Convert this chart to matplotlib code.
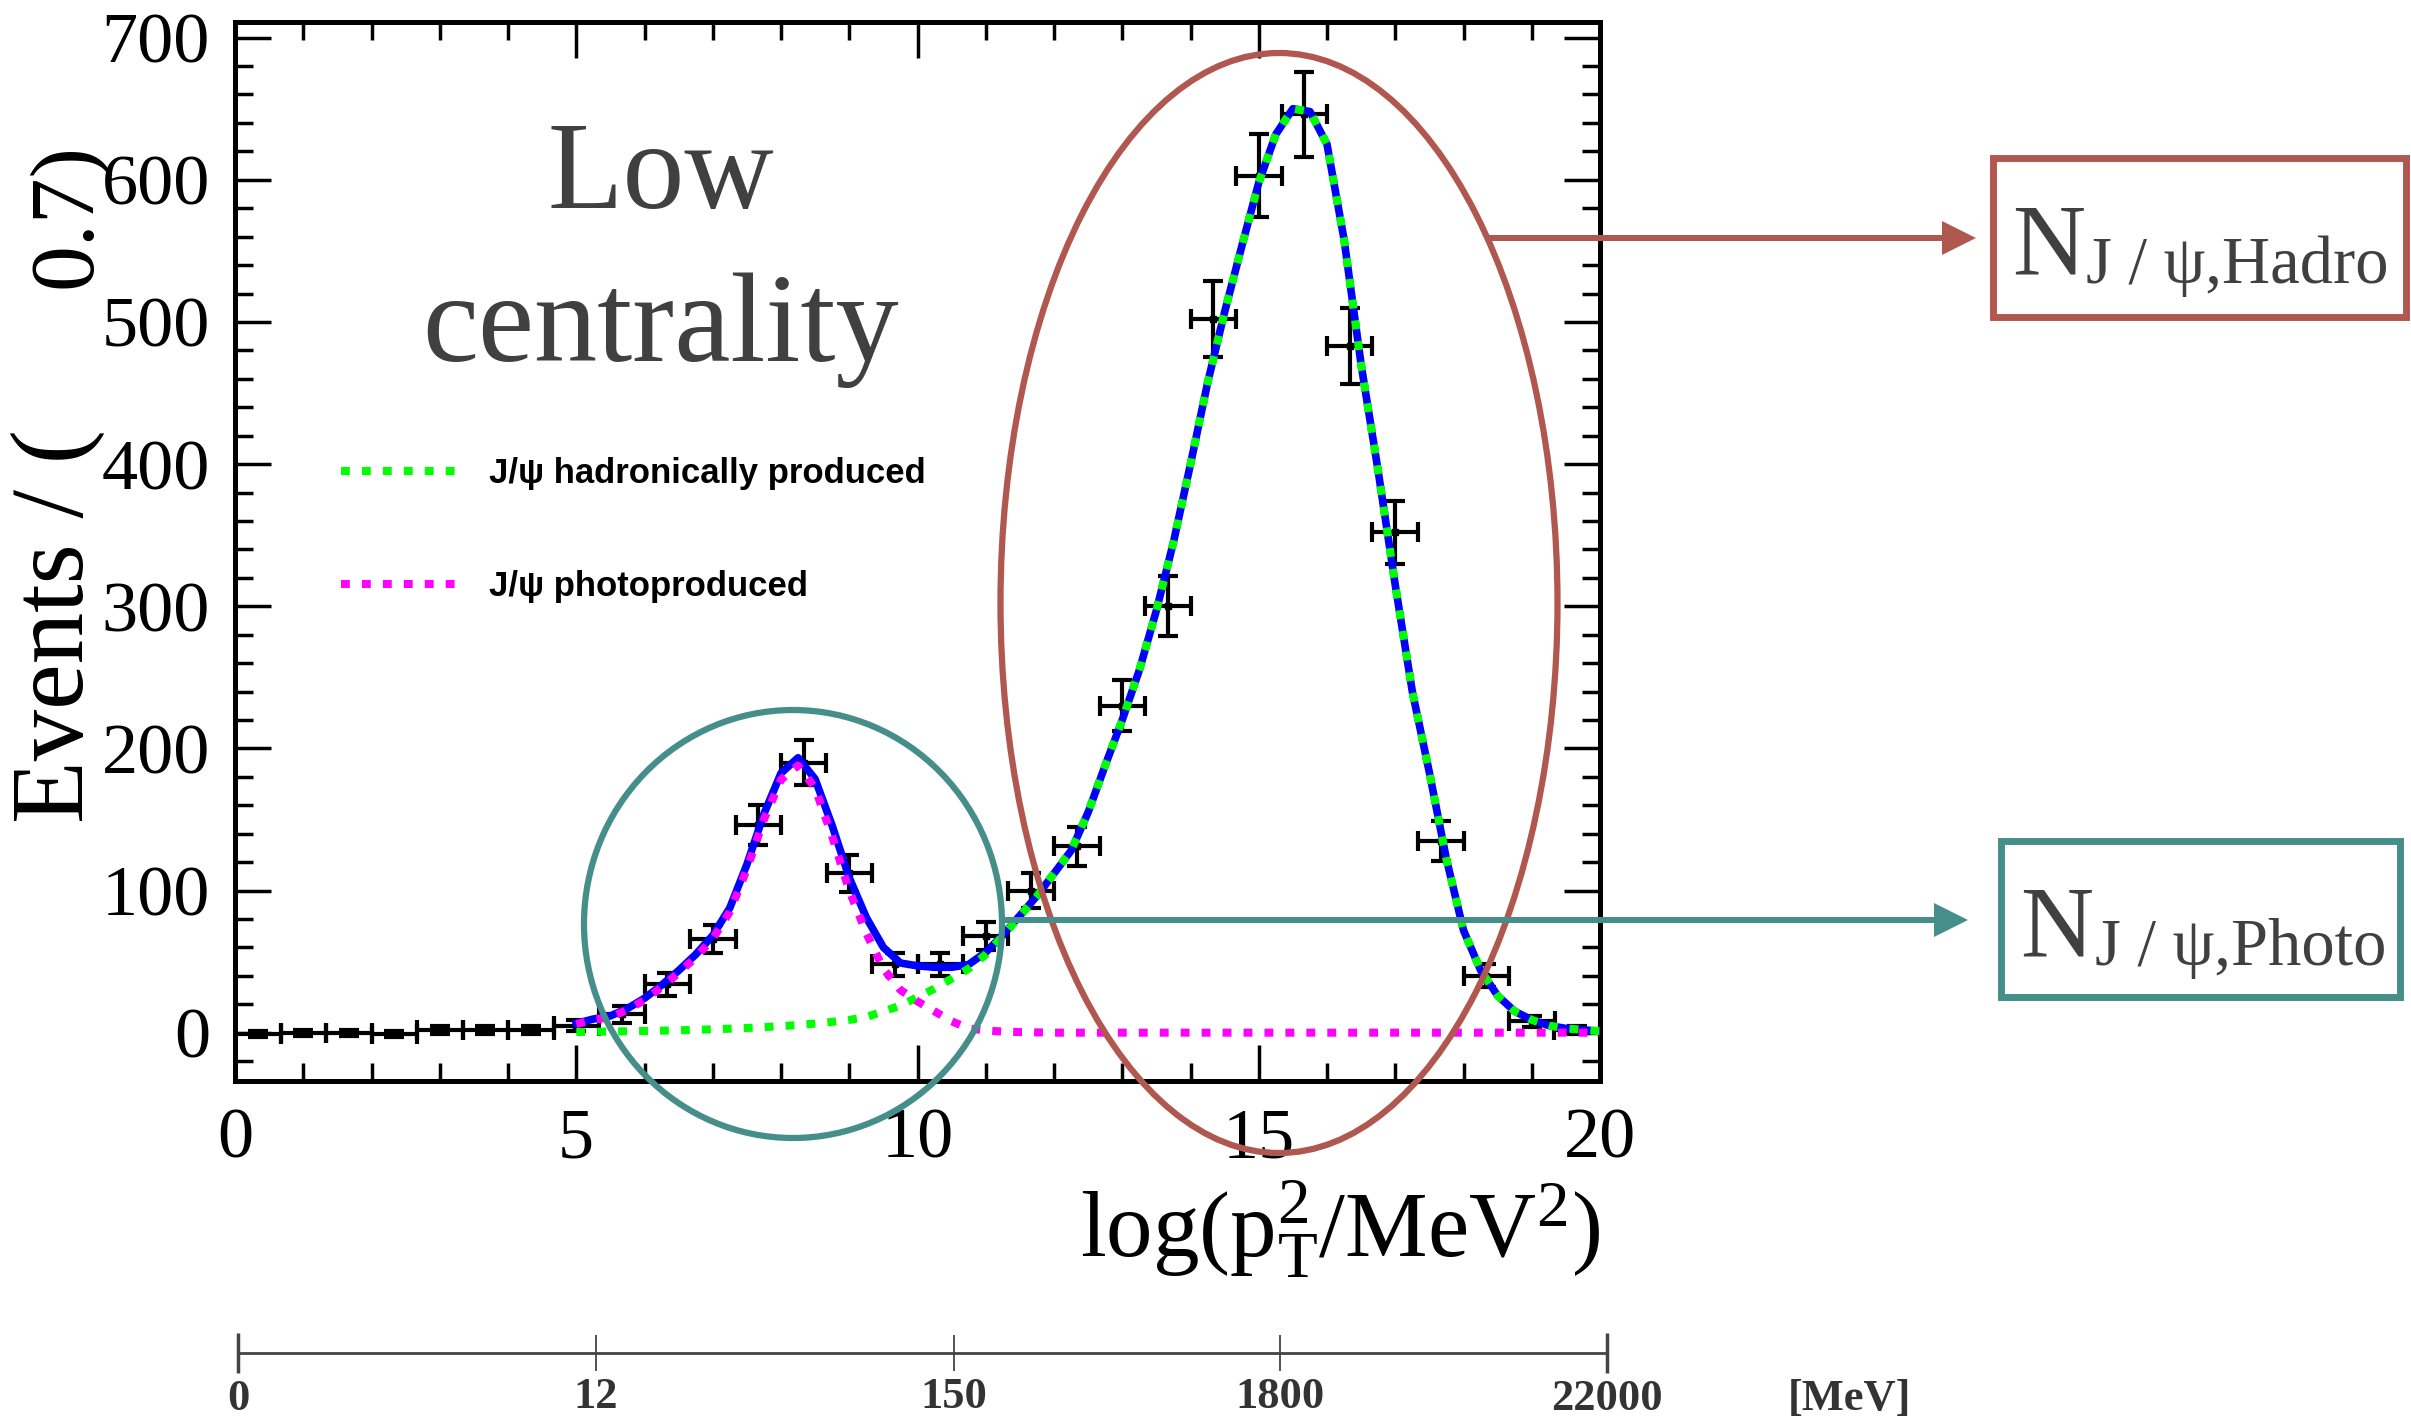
import numpy as np
import matplotlib.pyplot as plt
from matplotlib import patches

plt.rcParams['font.family'] = ['Liberation Serif', 'DejaVu Serif']
plt.rcParams['mathtext.fontset'] = 'custom'
plt.rcParams['mathtext.rm'] = 'Liberation Serif'
plt.rcParams['mathtext.it'] = 'Liberation Serif:italic'

# binned data: 30 bins over log(pT^2) in [0, 20]
n_bins = 30
counts = [-1, 0, 0, -1, 2, 2, 2, 5, 13, 34,
          66, 146, 190, 112, 48, 48, 68, 100, 131, 230,
          300, 502, 603, 646, 483, 352, 135, 40, 8, 2]
errors = [2, 2, 2, 2, 3, 3, 3, 4, 6, 8,
          10, 14, 16, 13, 8, 8, 10, 12, 14, 18,
          21, 27, 29, 30, 27, 22, 14, 8, 4, 3]

# fit components, sampled every 0.25 from 5 to 20
fit_x = np.linspace(5, 20, 61)
hadro = [0.5, 0.6, 0.8, 1.0, 1.2, 1.4, 1.7, 2.0, 2.4, 2.8,
         3.3, 3.9, 4.6, 5.4, 6.4, 7.6, 9, 11, 15, 19,
         25, 31, 38, 45, 55, 68, 82, 96, 112, 128,
         155, 188, 220, 255, 297, 345, 400, 457, 507, 553,
         598, 632, 650, 648, 625, 558, 470, 395, 315, 240,
         183, 122, 72, 44, 26, 15, 9, 5, 3, 2, 1]
photo = [6, 9, 11, 16, 23, 32, 42, 53, 66, 85,
         115, 150, 178, 188, 172, 138, 100, 70, 45, 30,
         22, 15, 8, 3, 1.5, 0.8, 0.4, 0.2, 0, 0,
         0, 0, 0, 0, 0, 0, 0, 0, 0, 0,
         0, 0, 0, 0, 0, 0, 0, 0, 0, 0,
         0, 0, 0, 0, 0, 0, 0, 0, 0, 0, 0]

# momentum scale drawn below the plot
mev_pos = [0, 5.23, 10.46, 15.22, 20]
mev_labels = ["0", "12", "150", "1800", "22000"]

W, H = 2411, 1420
teal = '#468e89'
red = '#b0584f'
grey = '#404040'

fig = plt.figure(figsize=(W / 100, H / 100), dpi=100)

ax = fig.add_axes([235 / W, 1 - 1081 / H, 1365 / W, 1059 / H])

edges = np.linspace(0, 20, n_bins + 1)
centers = 0.5 * (edges[:-1] + edges[1:])
half = 0.5 * np.diff(edges)

ax.errorbar(centers, counts, yerr=errors, xerr=half, fmt='s', ms=4,
            color='black', ecolor='black', elinewidth=3, capsize=7,
            capthick=3, zorder=2)

total = np.array(hadro) + np.array(photo)
dots = (0, (1.1, 1.5))
ax.plot(fit_x, total, color='blue', lw=5.5, zorder=3)
ax.plot(fit_x, hadro, color='#00ff00', lw=5.8, linestyle=dots,
        dash_capstyle='butt', zorder=4, label='J/ψ hadronically produced')
ax.plot(fit_x, photo, color='#ff00ff', lw=5.8, linestyle=dots,
        dash_capstyle='butt', zorder=4, label='J/ψ photoproduced')

ax.set_xlim(0, 20)
ax.set_ylim(-34, 711)
ax.set_xticks([0, 5, 10, 15, 20])
ax.set_xticks(np.arange(0, 21, 1), minor=True)
ax.set_yticks(np.arange(0, 701, 100))
ax.set_yticks(np.arange(-20, 711, 20), minor=True)
ax.tick_params(which='both', direction='in', top=True, right=True,
               labelsize=52, width=2.5)
ax.tick_params(which='major', length=26)
ax.tick_params(which='minor', length=13)
ax.tick_params(axis='x', pad=19)
ax.tick_params(axis='y', pad=18)
for sp in ax.spines.values():
    sp.set_linewidth(3.6)

ax.set_xlabel(r'log(p$_{\mathrm{T}}^{2}$/MeV$^{2}$)', fontsize=67)
ax.xaxis.set_label_coords(1.0, -0.166)
ax.xaxis.label.set_ha('right')
ax.xaxis.label.set_va('baseline')

ax.legend(loc='upper left', bbox_to_anchor=(341 / W, 1 - 457 / H),
          bbox_transform=fig.transFigure, frameon=False,
          prop={'family': 'Liberation Sans', 'weight': 'bold', 'size': 25},
          handlelength=3.45, handletextpad=0.8, labelspacing=2.3,
          borderpad=0, borderaxespad=0)

# MeV axis
ax2 = fig.add_axes([238 / W, 1 - 1353 / H, 1369 / W, 0.01])
ax2.set_xlim(0, 20)
ax2.set_yticks([])
for side in ['top', 'left', 'right']:
    ax2.spines[side].set_visible(False)
ax2.spines['bottom'].set_linewidth(2)
ax2.spines['bottom'].set_color('#444444')
ax2.patch.set_alpha(0)
ax2.set_xticks([mev_pos[0], mev_pos[-1]], [mev_labels[0], mev_labels[-1]])
ax2.set_xticks(mev_pos[1:-1], mev_labels[1:-1], minor=True)
ax2.tick_params(which='both', direction='inout', color='#444444',
                labelcolor='#333333', labelsize=32, pad=4)
ax2.tick_params(which='major', length=29, width=2.5)
ax2.tick_params(which='minor', length=26, width=1.3)
for lbl in ax2.get_xticklabels(which='both'):
    lbl.set_fontweight('bold')

# annotation layer in pixel coordinates
ov = fig.add_axes([0, 0, 1, 1], zorder=10)
ov.set_xlim(0, W)
ov.set_ylim(H, 0)
ov.axis('off')
ov.patch.set_alpha(0)

ov.text(58, 823, 'Events / (', rotation=90, ha='center', va='bottom',
        fontsize=74, color='black')
ov.text(68, 143, '0.7)', rotation=90, ha='center', va='top',
        fontsize=66, color='black')

ov.text(661, 208, 'Low', ha='center', va='baseline', fontsize=89, color=grey)
ov.text(661, 361, 'centrality', ha='center', va='baseline', fontsize=91,
        color=grey)

ov.add_patch(patches.Ellipse((793, 924), 418, 428, fill=False, ec=teal, lw=4.5))
ov.add_patch(patches.Ellipse((1279, 603), 557, 1100, fill=False, ec=red, lw=4.5))

ov.add_patch(patches.FancyArrow(1489, 238, 1976 - 1489, 0, width=6,
                                head_width=34, head_length=34,
                                length_includes_head=True, color=red, lw=0))
ov.add_patch(patches.FancyArrow(1002, 920, 1968 - 1002, 0, width=6,
                                head_width=34, head_length=34,
                                length_includes_head=True, color=teal, lw=0))

ov.add_patch(patches.Rectangle((1993, 158), 413, 159, fill=False, ec=red, lw=5))
ov.add_patch(patches.Rectangle((2001, 841), 399, 156, fill=False, ec=teal, lw=5))

ov.text(2012, 275, 'N', fontsize=73, va='baseline', color=grey)
ov.text(2086, 283, 'J / ψ,Hadro', fontsize=48, va='baseline', color=grey)
ov.text(2020, 957, 'N', fontsize=73, va='baseline', color=grey)
ov.text(2095, 965, 'J / ψ,Photo', fontsize=48, va='baseline', color=grey)

ov.text(1849, 1410, '[MeV]', ha='center', va='baseline', fontsize=32,
        fontweight='bold', color='#333333')

fig.savefig('out.png', dpi=100)
